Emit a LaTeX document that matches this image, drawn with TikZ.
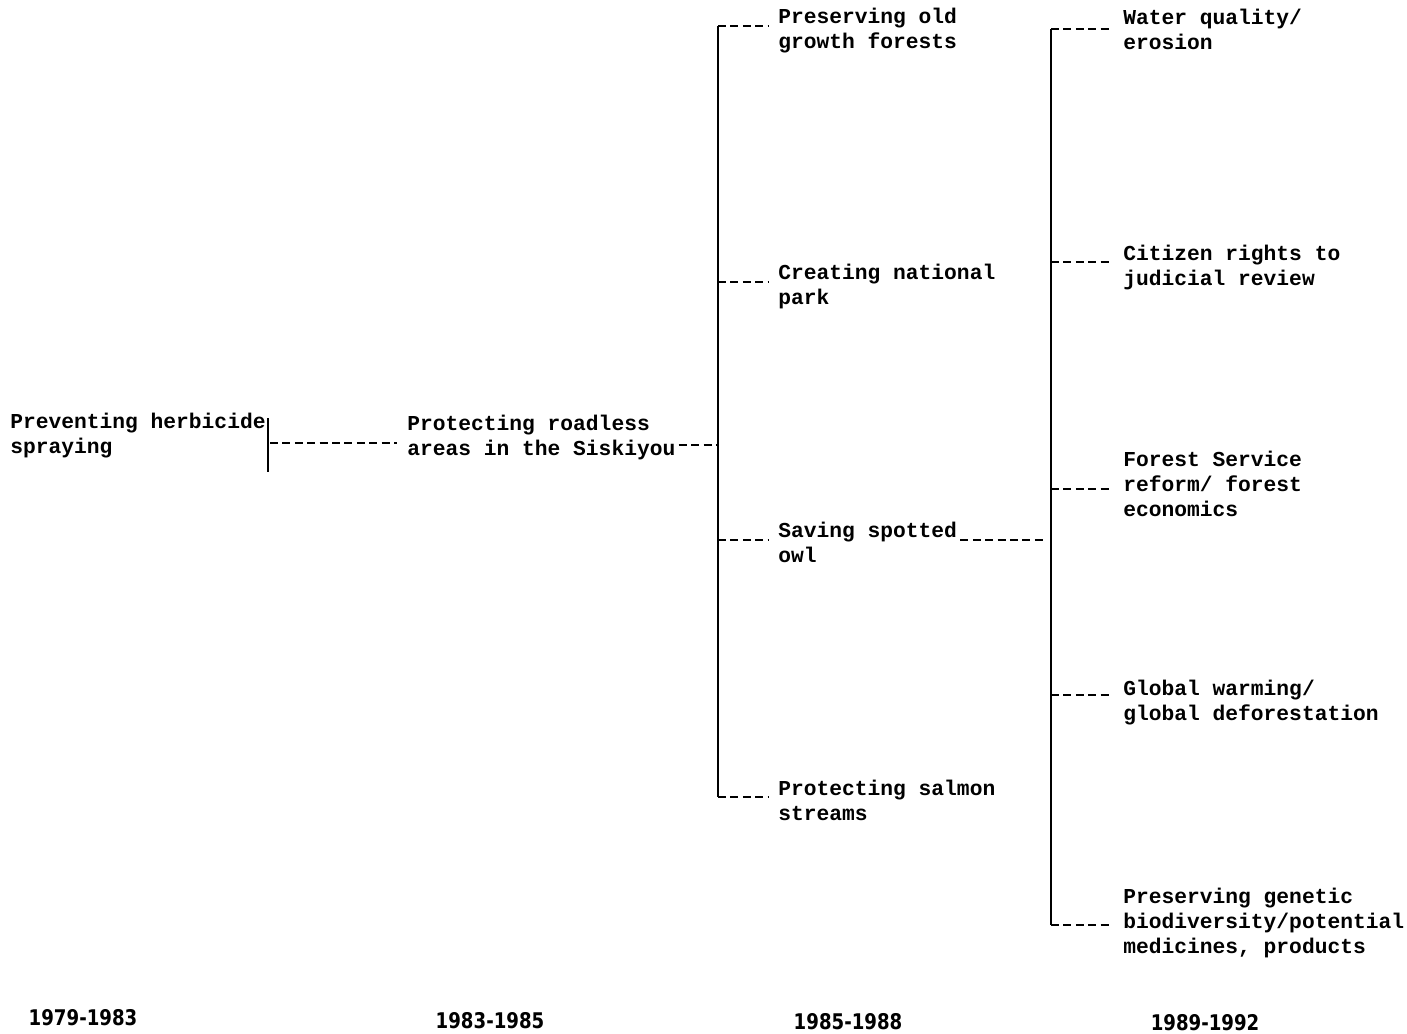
\documentclass[tikz,border=0pt]{standalone}
\usepackage{fontspec}
\setmonofont{Liberation Mono}
\newfontfamily\yearfont{DejaVu Sans}[FakeStretch=0.84]
\newcommand\mlines[1]{\begin{tabular}[t]{@{}l@{}}#1\end{tabular}}
\begin{document}
\begin{tikzpicture}[x=0.5pt,y=-0.5pt,
  lbl/.style={inner sep=0pt, anchor=base west, font=\ttfamily\bfseries\fontsize{10.63}{12.5}\selectfont},
  yr/.style={inner sep=0pt, anchor=base, font=\yearfont\bfseries\fontsize{10.8}{12}\selectfont},
  bar/.style={line width=1.2pt},
  dl/.style={line width=1.1pt, dash pattern=on 4pt off 2.2pt}]
\useasboundingbox (0,0) rectangle (1407,1033);

% texts
\node[lbl] (herb) at (10,428) {\mlines{Preventing herbicide\\spraying}};
\node[lbl] (road) at (407,430) {\mlines{Protecting roadless\\areas in the Siskiyou}};
\node[lbl] (old) at (778,24) {\mlines{Preserving old\\growth forests}};
\node[lbl] (park) at (778,279) {\mlines{Creating national\\park}};
\node[lbl] (owl) at (778,537) {\mlines{Saving spotted\\owl}};
\node[lbl] (salmon) at (778,795) {\mlines{Protecting salmon\\streams}};
\node[lbl] (water) at (1123,25) {\mlines{Water quality/\\erosion}};
\node[lbl] (citizen) at (1123,260) {\mlines{Citizen rights to\\judicial review}};
\node[lbl] (fs) at (1123,466) {\mlines{Forest Service\\reform/ forest\\economics}};
\node[lbl] (global) at (1123,695) {\mlines{Global warming/\\global deforestation}};
\node[lbl] (genetic) at (1123,903) {\mlines{Preserving genetic\\biodiversity/potential\\medicines, products}};

% years
\node[yr] (y1) at (83,1025) {1979-1983};
\node[yr] (y2) at (490,1028) {1983-1985};
\node[yr] (y3) at (848,1029) {1985-1988};
\node[yr] (y4) at (1205,1030) {1989-1992};

% bar 1
\coordinate (b1t) at (268,418);
\coordinate (b1b) at (268,472);
\coordinate (b1m) at (268,443);
\draw[bar] (b1t) -- (b1b);
\draw[dl, shorten <=1pt, shorten >=5pt] (b1m) -- (b1m -| road.west);

% bar 2
\coordinate (b2t) at (718,26);
\coordinate (b2p) at (718,282);
\coordinate (b2m) at (718,445);
\coordinate (b2o) at (718,540);
\coordinate (b2b) at (718,797);
\draw[bar] (b2t) -- (b2b);
\draw[dl, shorten <=1.5pt, shorten >=1pt] (road.east |- b2m) -- (b2m);
\draw[dl, shorten >=5pt] (b2t) -- (b2t -| old.west);
\draw[dl, shorten >=5pt] (b2p) -- (b2p -| park.west);
\draw[dl, shorten >=5pt] (b2o) -- (b2o -| owl.west);
\draw[dl, shorten >=5pt] (b2b) -- (b2b -| salmon.west);

% bar 3
\coordinate (b3t) at (1051,29);
\coordinate (b3c) at (1051,262);
\coordinate (b3f) at (1051,489);
\coordinate (b3o) at (1051,540);
\coordinate (b3g) at (1051,695);
\coordinate (b3b) at (1051,925);
\draw[bar] (b3t) -- (b3b);
\draw[dl, shorten <=1.5pt, shorten >=2pt] (owl.east |- b3o) -- (b3o);
\draw[dl, shorten >=6.5pt] (b3t) -- (b3t -| water.west);
\draw[dl, shorten >=6.5pt] (b3c) -- (b3c -| citizen.west);
\draw[dl, shorten >=6.5pt] (b3f) -- (b3f -| fs.west);
\draw[dl, shorten >=6.5pt] (b3g) -- (b3g -| global.west);
\draw[dl, shorten >=6.5pt] (b3b) -- (b3b -| genetic.west);
\end{tikzpicture}
\end{document}
